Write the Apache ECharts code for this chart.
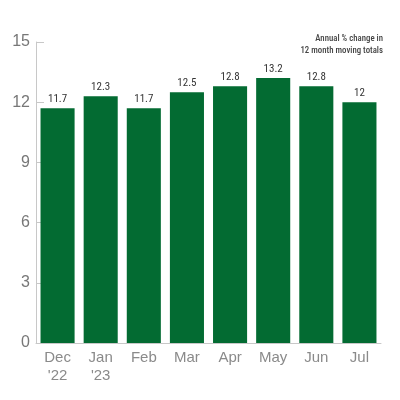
<!DOCTYPE html>
<html>
<head>
<meta charset="utf-8">
<script src="https://cdn.jsdelivr.net/npm/echarts@6/dist/echarts.min.js"></script>
<style>
  html, body { margin: 0; padding: 0; background: #fff; }
  #main { width: 400px; height: 400px; }
</style>
</head>
<body>
<div id="main"></div>
<script>
  var months = ['Dec\n\'22', 'Jan\n\'23', 'Feb', 'Mar', 'Apr', 'May', 'Jun', 'Jul'];
  var values = [11.7, 12.3, 11.7, 12.5, 12.8, 13.2, 12.8, 12];
  var yTicks = [0, 3, 6, 9, 12, 15];

  var green = '#036b32';

  var option = {
    animation: false,
    title: {
      text: 'Annual % change in\n12 month moving totals',
      left: 383,
      top: 33,
      padding: 0,
      textAlign: 'right',
      textStyle: {
        fontFamily: 'Liberation Sans Narrow, Roboto Condensed, sans-serif',
        fontSize: 8.8,
        fontWeight: 500,
        color: '#444',
        lineHeight: 12
      }
    },
    grid: { left: 36, right: 19, top: 42, bottom: 57 },
    xAxis: {
      type: 'category',
      data: months,
      axisLine: { lineStyle: { color: '#c8c8c8', width: 1 } },
      axisTick: { inside: true, length: 6, lineStyle: { color: '#c8c8c8' } },
      axisLabel: {
        color: '#8a8a8a',
        fontSize: 15,
        fontFamily: 'Liberation Sans, Arial, sans-serif',
        margin: 6,
        lineHeight: 18
      }
    },
    yAxis: {
      type: 'value',
      min: yTicks[0],
      max: yTicks[yTicks.length - 1],
      interval: 3,
      axisLine: { show: true, lineStyle: { color: '#c8c8c8', width: 1 } },
      axisTick: { show: true, inside: true, length: 8, lineStyle: { color: '#c8c8c8' } },
      splitLine: { show: false },
      axisLabel: {
        color: '#777',
        fontSize: 16,
        fontFamily: 'Liberation Sans, Arial, sans-serif',
        margin: 6
      }
    },
    series: [{
      type: 'bar',
      data: values,
      barCategoryGap: '21%',
      itemStyle: { color: green },
      label: {
        show: true,
        position: 'top',
        distance: 3,
        color: '#333',
        fontSize: 11,
        fontFamily: 'Liberation Sans Narrow, Roboto Condensed, sans-serif'
      }
    }]
  };

  var myChart = echarts.init(document.getElementById('main'));
  myChart.setOption(option, true);
</script>
</body>
</html>
